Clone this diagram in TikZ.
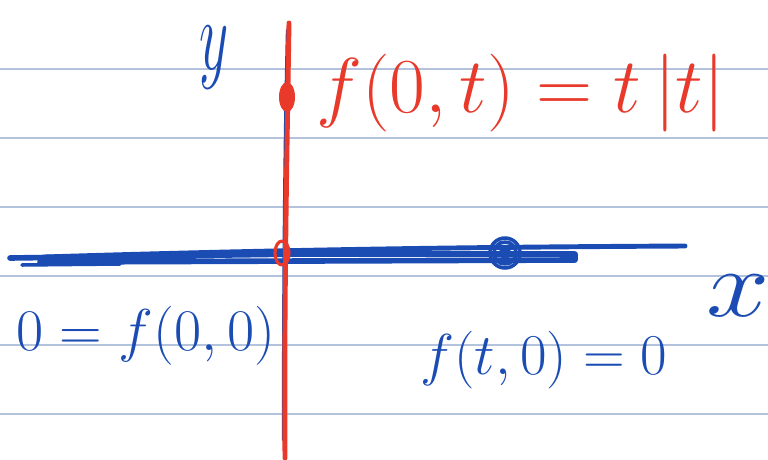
\documentclass[tikz,border=0pt]{standalone}
\usepackage{amsmath}
\usepackage{xcolor}
\usepackage{graphicx}
\usetikzlibrary{positioning,calc}
\definecolor{bl}{HTML}{1A4CB4}
\definecolor{rd}{HTML}{E8392A}
\definecolor{rl}{HTML}{B3C3DD}
\newcommand{\Bl}[1]{\ensuremath{\textcolor{bl}{#1}}}
\newcommand{\Rd}[1]{\ensuremath{\textcolor{rd}{#1}}}
\tikzset{
  ink/.style={line cap=round, line join=round},
  rule/.style={rl, line width=0.7pt},
  lab/.style={inner sep=0pt, font=\Huge}
}

\begin{document}
\begin{tikzpicture}[x=0.02cm, y=-0.02cm]
  \useasboundingbox (0,0) rectangle (768,460);
  \fill[white] (0,0) rectangle (768,460);
  \foreach \k in {1,...,6}
    \draw[rule] (0,69*\k) -- (768,69*\k);
  \coordinate (O) at (282,253);
  \coordinate (P) at (505,253);
  \coordinate (Q) at (287,97);
  % x axis
  \draw[ink, bl, line width=3.2pt] (10,258) -- (300,254) -- (575,254) -- (575,260) -- (40,262);
  \draw[ink, bl, line width=2.8pt] (45,257) .. controls (300,249) and (500,247) .. (685,246);
  \draw[ink, bl, line width=2pt] (22,265) -- (120,264);
  % y axis
  \draw[ink, bl, line width=1.3pt] (287,30) .. controls (284,150) and (283,300) .. (283,440);
  \draw[ink, rd, line width=2.8pt] (289,23) .. controls (287,150) and (284,300) .. (285,458);
  \fill[rd] (Q) ellipse [x radius=8, y radius=15];
  \draw[ink, rd, line width=1.8pt] (O) ellipse [x radius=7, y radius=12];
  \draw[ink, bl, line width=2pt] (P) circle (15) (P) circle (11);
  \fill[bl] (P) circle (6);
  \node[lab] (ylab) at (214,58) {\scalebox{1.3}[2.3]{\Bl{y}}};
  \node[lab, anchor=base west] (ftlab) at (316,112) {\scalebox{1.78}{\Rd{f(0,t) = t\,|t|}}};
  \node[lab, anchor=base west] (orglab) at (16,350) {\scalebox{1.35}{\Bl{0 = f(0,0)}}};
  \node[lab, anchor=base west] (xzlab) at (420,374) {\scalebox{1.32}{\Bl{f(t,0)=0}}};
  \node[lab] (xlab) at (738,296) {\scalebox{2.6}[2.2]{\Bl{x}}};
\end{tikzpicture}
\end{document}
